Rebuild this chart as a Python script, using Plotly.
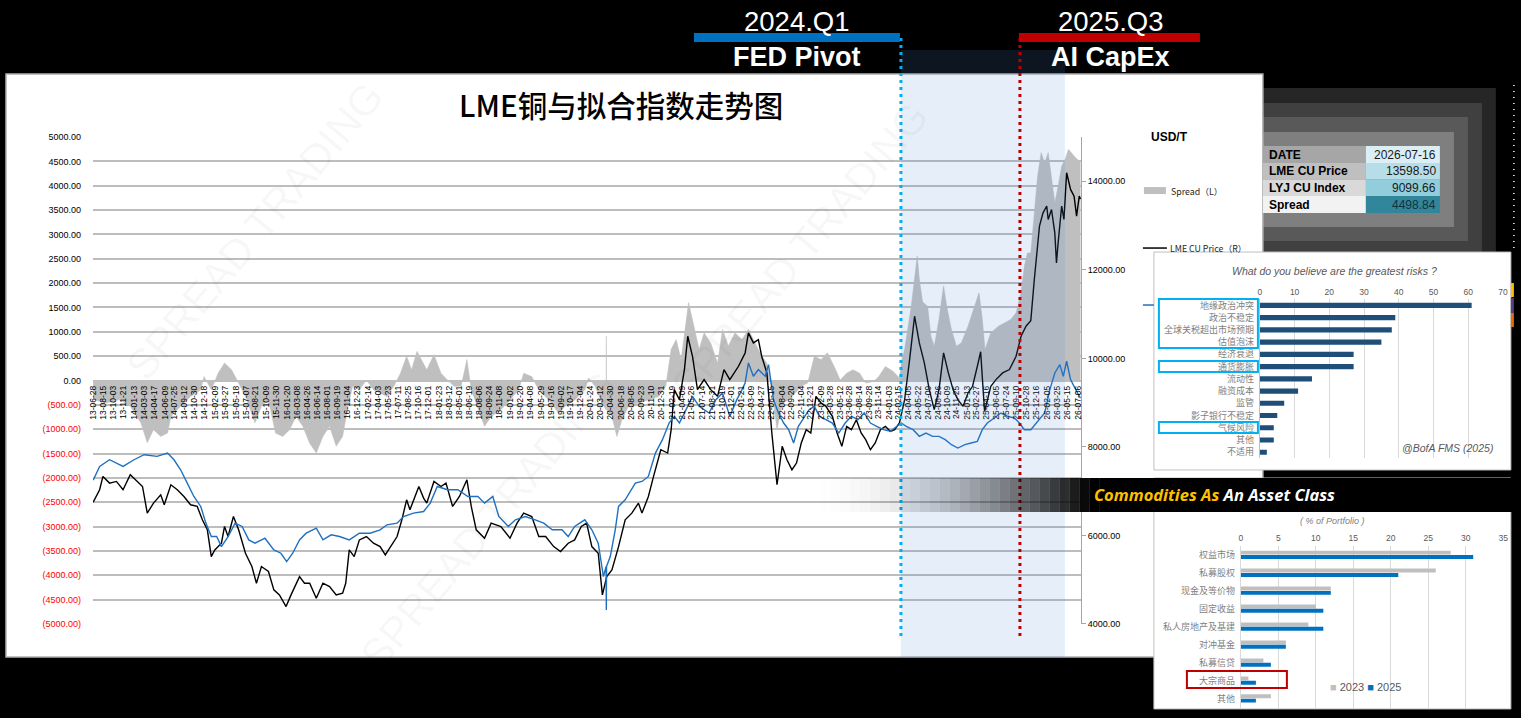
import plotly.graph_objects as go

W, H = 1521, 718

# ---------------- main chart data ----------------
lme_dates = [
    "2013-06-28", "2013-07-29", "2013-08-14", "2013-09-15", "2013-10-18", "2013-11-19",
    "2013-12-24", "2014-01-19", "2014-02-21", "2014-03-16", "2014-04-15", "2014-05-20",
    "2014-06-06", "2014-07-08", "2014-08-08", "2014-09-09", "2014-10-11", "2014-11-12",
    "2014-12-07", "2014-12-31", "2015-01-19", "2015-02-05", "2015-03-09", "2015-03-24",
    "2015-04-10", "2015-05-06", "2015-05-31", "2015-07-03", "2015-08-03", "2015-08-25",
    "2015-09-18", "2015-10-22", "2015-11-17", "2015-12-14", "2016-01-15", "2016-02-08",
    "2016-03-20", "2016-04-13", "2016-05-08", "2016-06-09", "2016-07-11", "2016-08-12",
    "2016-09-13", "2016-10-14", "2016-10-29", "2016-11-15", "2016-12-09", "2017-01-03",
    "2017-02-06", "2017-03-12", "2017-04-13", "2017-05-08", "2017-06-02", "2017-07-04",
    "2017-07-27", "2017-08-19", "2017-09-04", "2017-10-17", "2017-11-09", "2017-11-24",
    "2017-12-29", "2018-02-01", "2018-02-25", "2018-03-29", "2018-05-01", "2018-06-06",
    "2018-06-27", "2018-07-21", "2018-08-30", "2018-10-01", "2018-11-17", "2018-12-31",
    "2019-02-03", "2019-03-07", "2019-04-15", "2019-05-19", "2019-06-21", "2019-07-30",
    "2019-09-01", "2019-10-08", "2019-11-08", "2019-12-10", "2020-01-05", "2020-01-30",
    "2020-03-01", "2020-03-21", "2020-04-11", "2020-05-06", "2020-06-07", "2020-07-09",
    "2020-08-10", "2020-09-11", "2020-09-28", "2020-10-29", "2020-11-23", "2020-12-28",
    "2021-01-30", "2021-02-16", "2021-03-03", "2021-03-28", "2021-04-21", "2021-05-07",
    "2021-05-30", "2021-06-23", "2021-07-25", "2021-08-26", "2021-09-28", "2021-10-29",
    "2021-11-26", "2022-01-07", "2022-02-08", "2022-02-24", "2022-03-20", "2022-04-13",
    "2022-04-29", "2022-05-24", "2022-06-17", "2022-07-12", "2022-08-06", "2022-08-29",
    "2022-09-22", "2022-10-14", "2022-11-06", "2022-11-30", "2022-12-22", "2023-01-16",
    "2023-02-10", "2023-03-05", "2023-04-05", "2023-04-28", "2023-05-21", "2023-06-13",
    "2023-07-06", "2023-07-30", "2023-08-22", "2023-09-13", "2023-10-06", "2023-10-29",
    "2023-11-23", "2023-12-17", "2024-01-10", "2024-01-31", "2024-02-23", "2024-03-19",
    "2024-04-12", "2024-05-06", "2024-05-29", "2024-06-22", "2024-07-16", "2024-08-09",
    "2024-09-01", "2024-09-23", "2024-10-16", "2024-11-08", "2024-12-01", "2024-12-26",
    "2025-01-19", "2025-02-10", "2025-03-05", "2025-03-21", "2025-04-04", "2025-04-09",
    "2025-05-09", "2025-06-03", "2025-07-05", "2025-08-07", "2025-09-08", "2025-10-02",
    "2025-10-26", "2025-11-18", "2025-12-05", "2025-12-21", "2025-12-30", "2026-01-16",
    "2026-02-03", "2026-02-10", "2026-02-26", "2026-03-14", "2026-03-22", "2026-03-30",
    "2026-04-16", "2026-04-27", "2026-05-10", "2026-05-29", "2026-06-15", "2026-06-27",
    "2026-07-10", "2026-07-16",
]
lme_values = [
    6750, 7032, 7333, 7182, 7220, 7032,
    7370, 7257, 7106, 6504, 6730, 6918,
    6693, 7144, 7032, 6880, 6693, 6655,
    6353, 6127, 5523, 5673, 5824, 6202,
    5975, 6428, 6127, 5598, 5297, 4920,
    5297, 5184, 4770, 4657, 4393, 4657,
    5070, 4920, 4920, 4582, 4920, 4845,
    4657, 4695, 4920, 5673, 5523, 5899,
    5975, 5824, 5748, 5560, 5748, 5975,
    6353, 6805, 6579, 7106, 6843, 6730,
    7220, 7106, 7182, 6655, 6880, 7257,
    6655, 6127, 5937, 6278, 6202, 5937,
    6278, 6504, 6428, 5975, 5975, 5748,
    5635, 5824, 5899, 6202, 6278, 5748,
    5598, 4657, 5070, 5221, 5748, 6353,
    6504, 6730, 6504, 6880, 7333, 7936,
    7861, 8389, 9294, 9068, 9747, 10500,
    10048, 9294, 9520, 9294, 9143, 9747,
    9520, 9822, 10123, 10575, 10349, 10425,
    10048, 9671, 8314, 7145, 8013, 7710,
    7484, 7635, 8088, 8389, 8314, 9143,
    8992, 8917, 8690, 8314, 8013, 8465,
    8389, 8615, 8314, 8163, 7936, 8088,
    8389, 8465, 8352, 8389, 8540, 9068,
    9973, 10952, 10349, 9897, 9294, 8841,
    9294, 10123, 9671, 9294, 9068, 8917,
    9219, 9370, 9822, 10150, 9143, 8800,
    9370, 9520, 9671, 9747, 10048, 10500,
    10726, 10850, 11781, 12610, 12987, 13289,
    13440, 13138, 13364, 12836, 12158, 12610,
    13440, 13138, 14194, 13817, 13666, 13213,
    13666, 13598.50,
]

lyj_dates = [
    "2013-06-28", "2013-07-29", "2013-09-15", "2013-11-19", "2014-01-11", "2014-03-01",
    "2014-05-02", "2014-06-22", "2014-07-23", "2014-08-24", "2014-09-25", "2014-10-27",
    "2014-11-29", "2014-12-24", "2015-01-19", "2015-02-14", "2015-03-09", "2015-04-10",
    "2015-05-14", "2015-06-17", "2015-07-19", "2015-08-18", "2015-10-05", "2015-11-17",
    "2015-12-21", "2016-01-18", "2016-02-16", "2016-03-20", "2016-04-21", "2016-06-09",
    "2016-07-11", "2016-08-20", "2016-09-29", "2016-11-15", "2017-01-03", "2017-02-24",
    "2017-04-13", "2017-05-16", "2017-07-04", "2017-08-04", "2017-09-21", "2017-11-09",
    "2017-12-11", "2018-01-14", "2018-03-04", "2018-04-23", "2018-06-11", "2018-07-29",
    "2018-08-30", "2018-10-09", "2018-11-07", "2018-12-23", "2019-01-26", "2019-03-15",
    "2019-05-02", "2019-06-12", "2019-07-23", "2019-09-08", "2019-10-08", "2019-11-08",
    "2019-12-27", "2020-01-30", "2020-03-01", "2020-03-26", "2020-04-08", "2020-04-09",
    "2020-04-10", "2020-04-28", "2020-05-22", "2020-06-07", "2020-07-09", "2020-08-27",
    "2020-09-28", "2020-10-29", "2020-12-02", "2021-01-05", "2021-02-06", "2021-03-03",
    "2021-03-28", "2021-04-29", "2021-05-30", "2021-07-01", "2021-08-18", "2021-09-20",
    "2021-10-22", "2021-11-26", "2021-12-30", "2022-01-24", "2022-02-08", "2022-02-24",
    "2022-03-20", "2022-04-13", "2022-05-16", "2022-06-01", "2022-06-25", "2022-07-19",
    "2022-08-13", "2022-09-06", "2022-09-30", "2022-10-23", "2022-11-21", "2022-12-14",
    "2023-01-08", "2023-02-02", "2023-03-05", "2023-04-05", "2023-05-06", "2023-06-06",
    "2023-07-06", "2023-08-07", "2023-09-06", "2023-10-06", "2023-11-05", "2023-12-09",
    "2024-01-10", "2024-02-08", "2024-03-03", "2024-03-27", "2024-04-29", "2024-05-29",
    "2024-06-30", "2024-08-01", "2024-09-01", "2024-10-01", "2024-10-31", "2024-12-01",
    "2025-01-04", "2025-02-03", "2025-03-05", "2025-03-29", "2025-04-22", "2025-05-26",
    "2025-06-27", "2025-07-30", "2025-08-31", "2025-09-24", "2025-10-18", "2025-11-18",
    "2025-12-21", "2026-01-24", "2026-02-18", "2026-03-14", "2026-04-07", "2026-04-24",
    "2026-05-10", "2026-05-29", "2026-06-23", "2026-07-16",
]
lyj_values = [
    7250, 7559, 7710, 7559, 7710, 7823,
    7786, 7861, 7710, 7484, 7182, 6880,
    6655, 6278, 5975, 5975, 5748, 5975,
    6278, 6202, 5899, 5824, 5937, 5673,
    5598, 5410, 5598, 5899, 6051, 6164,
    5899, 6013, 5975, 5899, 6051, 6051,
    6127, 6240, 6278, 6428, 6504, 6541,
    6730, 7106, 7032, 7032, 6880, 6880,
    6730, 6880, 6428, 6202, 6353, 6428,
    6353, 6278, 6127, 6127, 5975, 6202,
    6353, 6127, 5824, 5070, 5300, 4317,
    5300, 5523, 6127, 6655, 6805, 7182,
    7220, 7333, 7861, 8163, 8540, 8690,
    8540, 8841, 9143, 8917, 8766, 9068,
    9219, 8690, 9068, 9294, 9445, 9897,
    9596, 9747, 9596, 9860, 9068, 8766,
    8540, 8389, 8088, 8465, 8690, 8841,
    8917, 8690, 8615, 8540, 8314, 8540,
    8690, 8615, 8766, 8540, 8465, 8389,
    8352, 8465, 8540, 8465, 8389, 8239,
    8314, 8239, 8239, 8163, 8050, 7974,
    8050, 8088, 8126, 8389, 8540, 8653,
    8766, 8690, 8653, 8540, 8389, 8389,
    8577, 8766, 9294, 9671, 9860, 9596,
    9935, 9520, 9294, 9099.66,
]

spread_dates = [
    "2013-06-28", "2013-08-30", "2013-11-03", "2013-12-24", "2014-02-13", "2014-03-16",
    "2014-04-15", "2014-05-20", "2014-06-22", "2014-07-08", "2014-08-24", "2014-10-11",
    "2014-11-29", "2014-12-15", "2015-01-19", "2015-02-21", "2015-03-24", "2015-04-27",
    "2015-05-31", "2015-07-03", "2015-08-18", "2015-09-18", "2015-10-22", "2015-11-25",
    "2015-12-30", "2016-02-01", "2016-03-03", "2016-04-05", "2016-05-08", "2016-06-09",
    "2016-07-11", "2016-08-12", "2016-09-13", "2016-10-14", "2016-11-06", "2016-12-01",
    "2017-01-03", "2017-02-06", "2017-03-12", "2017-04-13", "2017-05-16", "2017-06-18",
    "2017-07-20", "2017-08-19", "2017-09-12", "2017-10-08", "2017-11-09", "2017-11-24",
    "2017-12-29", "2018-02-01", "2018-03-04", "2018-04-06", "2018-05-09", "2018-06-06",
    "2018-06-27", "2018-07-21", "2018-08-30", "2018-10-01", "2018-11-17", "2018-12-31",
    "2019-02-11", "2019-03-07", "2019-04-15", "2019-05-19", "2019-07-06", "2019-08-23",
    "2019-09-23", "2019-11-08", "2019-12-27", "2020-01-14", "2020-02-15", "2020-03-18",
    "2020-04-08", "2020-04-09", "2020-04-10", "2020-05-06", "2020-05-30", "2020-06-23",
    "2020-07-25", "2020-09-11", "2020-10-29", "2020-12-18", "2021-01-21", "2021-02-16",
    "2021-03-12", "2021-04-05", "2021-05-11", "2021-06-07", "2021-07-01", "2021-07-25",
    "2021-08-26", "2021-09-28", "2021-10-22", "2021-11-19", "2021-12-21", "2022-01-24",
    "2022-02-24", "2022-03-28", "2022-04-29", "2022-05-24", "2022-06-17", "2022-07-12",
    "2022-08-06", "2022-09-06", "2022-10-08", "2022-11-06", "2022-12-07", "2023-01-08",
    "2023-02-10", "2023-03-12", "2023-04-14", "2023-05-13", "2023-06-13", "2023-07-14",
    "2023-08-15", "2023-09-13", "2023-10-22", "2023-11-15", "2023-12-17", "2024-01-23",
    "2024-02-23", "2024-03-05", "2024-03-19", "2024-04-20", "2024-05-19", "2024-05-29",
    "2024-06-14", "2024-07-08", "2024-07-24", "2024-08-09", "2024-09-01", "2024-09-23",
    "2024-10-08", "2024-10-31", "2024-11-24", "2024-12-18", "2025-01-19", "2025-02-18",
    "2025-03-13", "2025-03-29", "2025-04-11", "2025-05-09", "2025-06-15", "2025-07-16",
    "2025-08-15", "2025-09-08", "2025-10-02", "2025-10-18", "2025-11-02", "2025-11-18",
    "2025-12-05", "2025-12-21", "2026-01-07", "2026-01-24", "2026-02-10", "2026-02-26",
    "2026-03-14", "2026-03-30", "2026-04-16", "2026-05-02", "2026-05-19", "2026-06-15",
    "2026-07-01", "2026-07-16",
]
spread_values = [
    -390, -460, -390, -530, -870, -1280,
    -1010, -1150, -1080, -740, -530, -330,
    -190, 80, -190, 150, 360, 220,
    -50, -330, -870, -530, -400, -1080,
    -1150, -1010, -740, -940, -1290, -1490,
    -1150, -940, -1350, -1150, -600, -120,
    -190, 10, -190, -260, -330, -120,
    150, 500, 220, 600, 360, 220,
    530, 150, 10, -120, -120, 430,
    -190, -460, -940, -740, -600, -400,
    -190, 150, 80, -190, -400, -670,
    -530, -400, -190, 50, -120, -460,
    -600, 910, -600, -740, -1150, -810,
    -530, -460, -400, -330, -120, 640,
    840, 430, 1600, 1120, 640, 980,
    770, 360, 1050, 710, 980, 840,
    1050, 770, 500, 360, -190, -1010,
    -460, -400, -260, -120, -50, 500,
    430, 570, 290, 10, 150, 220,
    150, -50, -20, 80, 290, 190,
    50, 400, 640, 1527, 2555, 2082,
    1610, 1527, 910, 706, 1260, 1945,
    1527, 1048, 706, 775, 1117, 1527,
    1800, 1260, 637, 980, 1117, 1185,
    1260, 1390, 1800, 2350, 2620, 2620,
    3440, 4200, 4680, 4470, 4680, 4130,
    3650, 3990, 4400, 4540, 4750, 4610,
    4540, 4498.84,
]

date_labels = [
    "13-06-28", "13-08-15", "13-10-03", "13-11-21", "14-01-13", "14-03-03", "14-04-17",
    "14-06-09", "14-07-25", "14-09-12", "14-10-30", "14-12-18", "15-02-09", "15-03-27",
    "15-05-18", "15-07-07", "15-08-21", "15-10-09", "15-11-30", "16-01-20", "16-03-08",
    "16-04-26", "16-06-14", "16-08-01", "16-09-19", "16-11-04", "16-12-23", "17-02-14",
    "17-04-03", "17-05-23", "17-07-11", "17-08-25", "17-10-16", "17-12-01", "18-01-23",
    "18-03-12", "18-05-01", "18-06-19", "18-08-06", "18-09-24", "18-11-08", "19-01-02",
    "19-02-20", "19-04-08", "19-05-29", "19-07-16", "19-09-02", "19-10-17", "19-12-04",
    "20-01-24", "20-03-12", "20-04-30", "20-06-18", "20-08-05", "20-09-23", "20-11-10",
    "20-12-31", "21-02-19", "21-04-09", "21-05-26", "21-07-14", "21-08-31", "21-10-19",
    "21-12-01", "22-01-21", "22-03-09", "22-04-27", "22-06-15", "22-08-04", "22-09-20",
    "22-11-04", "22-12-21", "23-02-09", "23-03-28", "23-05-12", "23-06-28", "23-08-14",
    "23-09-28", "23-11-14", "24-01-03", "24-02-15", "24-04-05", "24-05-22", "24-07-09",
    "24-08-26", "24-10-09", "24-11-25", "25-01-13", "25-02-27", "25-04-16", "25-06-05",
    "25-07-24", "25-09-10", "25-10-28", "25-12-16", "26-02-05", "26-03-25", "26-05-15",
    "26-07-06",
]

left_ticks = [5000, 4500, 4000, 3500, 3000, 2500, 2000, 1500, 1000, 500, 0,
              -500, -1000, -1500, -2000, -2500, -3000, -3500, -4000, -4500, -5000]
right_ticks = [4000, 6000, 8000, 10000, 12000, 14000]

table_fields = ["DATE", "LME CU Price", "LYJ CU Index", "Spread"]
table_values = ["2026-07-16", "13598.50", "9099.66", "4498.84"]

# ---------------- inset charts ----------------
risk_labels = ["地缘政治冲突", "政治不稳定", "全球关税超出市场预期", "估值泡沫", "经济衰退",
               "通货膨胀", "流动性", "融资成本", "监管", "影子银行不稳定", "气候风险",
               "其他", "不适用"]
risk_values = [61, 39, 38, 35, 27, 27, 15, 11, 7, 5, 4, 4, 2]

port_labels = ["权益市场", "私募股权", "现金及等价物", "固定收益", "私人房地产及基建",
               "对冲基金", "私募信贷", "大宗商品", "其他"]
port_2023 = [28, 26, 12, 10, 9, 6, 3, 1, 4]
port_2025 = [31, 21, 12, 11, 11, 6, 4, 2, 2]

# the captured page comes out slightly shrunk towards the centre; compensate
OX, SX = 5.0, 0.9935
OY, SY = 4.9, 0.9863


def px(x):
    return (x - OX) / SX / W


def py(y):
    return 1 - (y - OY) / SY / H


def rect(x0, y0, x1, y1, fill, line=None, lw=1, layer="below", opacity=1):
    return dict(type="rect", xref="paper", yref="paper",
                x0=px(x0), x1=px(x1), y0=py(y1), y1=py(y0),
                fillcolor=fill, opacity=opacity, layer=layer,
                line=dict(color=line if line else "rgba(0,0,0,0)", width=lw if line else 0))


def seg(x0, y0, x1, y1, color, lw=1, dash="solid", layer="above"):
    return dict(type="line", xref="paper", yref="paper",
                x0=px(x0), x1=px(x1), y0=py(y0), y1=py(y1), layer=layer,
                line=dict(color=color, width=lw, dash=dash))


def note(x, y, text, size=10, color="black", family="Liberation Sans, Arial, sans-serif",
         xanchor="center", angle=0, weight=None):
    font = dict(size=size, color=color, family=family)
    if weight:
        font["weight"] = weight
    return dict(x=px(x), y=py(y), xref="paper", yref="paper", text=text, showarrow=False,
                xanchor=xanchor, yanchor="middle", textangle=angle, font=font)


CJK = "Noto Sans CJK SC, sans-serif"
SANS = "Liberation Sans, Arial, sans-serif"

fig = go.Figure()

fig.add_trace(go.Scatter(x=spread_dates, y=spread_values, mode="lines", fill="tozeroy",
                         line=dict(color="#bfbfbf", width=0.5), fillcolor="#bfbfbf",
                         xaxis="x", yaxis="y", name="Spread（L）"))
fig.add_trace(go.Scatter(x=lme_dates, y=lme_values, mode="lines",
                         line=dict(color="black", width=1.4),
                         xaxis="x", yaxis="y2", name="LME CU Price（R）"))
fig.add_trace(go.Scatter(x=lyj_dates, y=lyj_values, mode="lines",
                         line=dict(color="#1f70c1", width=1.4),
                         xaxis="x", yaxis="y2", name="LYJ CU Index（R）"))

fig.add_trace(go.Bar(x=risk_values, y=risk_labels, orientation="h", width=0.42,
                     marker=dict(color="#1f4e79", line=dict(width=0)),
                     xaxis="x3", yaxis="y3"))
fig.add_trace(go.Bar(x=port_2023, y=port_labels, orientation="h", width=0.22, offset=-0.24,
                     marker=dict(color="#bfbfbf", line=dict(width=0)),
                     xaxis="x4", yaxis="y4", name="2023"))
fig.add_trace(go.Bar(x=port_2025, y=port_labels, orientation="h", width=0.22, offset=0.0,
                     marker=dict(color="#0070c0", line=dict(width=0)),
                     xaxis="x4", yaxis="y4", name="2025"))

left_text = [f"{v:.2f}" if v >= 0 else f"<span style='color:#ff0000'>({-v:.2f})</span>"
             for v in left_ticks]

shapes = [
    # nested frames behind the data table
    rect(1263, 88, 1496, 252, "#262626"),
    rect(1263, 103, 1482, 252, "#404040"),
    rect(1263, 117, 1468, 241, "#595959"),
    rect(1263, 132, 1454, 227, "#7f7f7f"),
    # main chart panel
    rect(6, 74, 1263, 657, "white", line="#b0b0b0", lw=1.5),
    # inset panels
    rect(1154, 252, 1511, 470, "white", line="#bfbfbf"),
    rect(1154, 478, 1511, 709, "white", line="#bfbfbf"),
]

row_y = [146, 163, 179.5, 196, 213]
left_fill = ["#a6a6a6", "#bfbfbf", "#d9d9d9", "#f2f2f2"]
right_fill = ["#daeef3", "#b7dee8", "#92cddc", "#31869b"]
for i in range(4):
    shapes.append(rect(1263, row_y[i], 1366, row_y[i + 1], left_fill[i]))
    shapes.append(rect(1366, row_y[i], 1440, row_y[i + 1], right_fill[i]))

# shaded period 2024.Q1 -> present
shapes.append(rect(901, 50, 1065, 657, "rgba(87,141,215,0.15)", layer="above"))
shapes.append(seg(901, 38, 901, 640, "#00b0f0", lw=3, dash="3px,4px"))
shapes.append(seg(1020, 38, 1020, 640, "#c00000", lw=3, dash="3px,4px"))
shapes.append(rect(694, 33, 900, 42, "#0070c0", layer="above"))
shapes.append(rect(1019, 33, 1200, 42, "#c00000", layer="above"))

# banner with horizontal fade
x = 800
while x < 1100:
    t = max(0.0, (x + 5 - 800) / 290)
    a = min(1.0, t ** 2.2)
    shapes.append(rect(x, 478, x + 10, 512, "black", layer="above", opacity=a))
    x += 10
shapes.append(rect(1100, 478, 1530, 512, "black", layer="above"))

# legend swatches
shapes.append(rect(1144, 187, 1166, 194, "#bfbfbf", layer="above"))
shapes.append(seg(1143, 248, 1167, 248, "black", lw=1.5))
shapes.append(seg(1143, 305, 1154, 305, "#1f70c1", lw=1.5))

# highlight boxes
shapes.append(rect(1159, 299, 1258, 348, "rgba(0,0,0,0)", line="#00b0f0", lw=2, layer="above"))
shapes.append(rect(1159, 361, 1258, 372, "rgba(0,0,0,0)", line="#00b0f0", lw=2, layer="above"))
shapes.append(rect(1159, 422, 1258, 433, "rgba(0,0,0,0)", line="#00b0f0", lw=2, layer="above"))
shapes.append(rect(1187, 671, 1287, 688, "rgba(0,0,0,0)", line="#c00000", lw=2, layer="above"))

# edge details on the far right
shapes.append(seg(1514, 85, 1514, 250, "white", lw=1.5, dash="1px,5px"))
shapes.append(rect(1511, 283, 1514, 297, "#ffc000", layer="above"))
shapes.append(rect(1511, 298, 1514, 313, "#5b3b8c", layer="above"))
shapes.append(rect(1511, 313, 1514, 327, "#e46c0a", layer="above"))

annotations = [
    note(621, 104, "LME铜与拟合指数走势图", size=29.5, color="black", family=CJK, weight=500),
    note(797, 21, "2024.Q1", size=27.5, color="white", family=SANS),
    note(797, 57, "<b>FED Pivot</b>", size=27, color="white", family=SANS),
    note(1111, 21, "2025.Q3", size=27.5, color="white", family=SANS),
    note(1111, 57, "<b>AI CapEx</b>", size=27, color="white", family=SANS),
    note(1149, 137, "<b>USD/T</b>", size=12, xanchor="left"),
    note(1169, 191, "Spread（L）", size=8.8, color="#262626", xanchor="left", family=CJK),
    note(1168, 248, "LME CU Price（R）", size=8.8, color="#262626", xanchor="left", family=CJK),
    note(1335, 271, "<i>What do you believe are the greatest risks ?</i>", size=10.5, color="#595959"),
    note(1448, 448, "<i>@BofA FMS (2025)</i>", size=10.5, color="#595959"),
    note(1333, 521, "<i>( % of Portfolio )</i>", size=9, color="#7f7f7f"),
    note(1366, 687, "<span style='color:#bfbfbf'>■</span> 2023 <span style='color:#0070c0'>■</span> 2025",
         size=11, color="#595959"),
    note(1215, 495, "<b><i><span style='color:#ffc000'>Commodities As</span> An Asset Class</i></b>",
         size=16.5, color="white", family="Noto Sans, Open Sans, sans-serif"),
]
for i in range(4):
    cy = (row_y[i] + row_y[i + 1]) / 2
    annotations.append(note(1267, cy, f"<b>{table_fields[i]}</b>", size=12, xanchor="left"))
    annotations.append(dict(x=px(1438), y=py(cy), xref="paper", yref="paper", text=table_values[i],
                            showarrow=False, xanchor="right", yanchor="middle",
                            font=dict(size=12, color="#1a1a1a" if i < 3 else "#14323c",
                                      family=SANS)))

# faint watermarks
for wx, wy in [(255, 230), (490, 520), (800, 250)]:
    annotations.append(note(wx, wy, "SPREAD TRADING", size=42, color="rgba(0,0,0,0.045)", angle=-50))

fig.update_layout(
    width=W, height=H,
    margin=dict(l=0, r=0, t=0, b=0),
    paper_bgcolor="black",
    plot_bgcolor="rgba(0,0,0,0)",
    showlegend=False,
    barmode="overlay",
    font=dict(family=SANS, color="black"),
    shapes=shapes,
    annotations=annotations,
    xaxis=dict(type="date", domain=[px(93), px(1081)], range=["2013-06-27", "2026-07-18"],
               anchor="free", position=py(381),
               tickvals=["20" + d for d in date_labels], ticktext=date_labels,
               tickangle=-90, tickfont=dict(size=8.5, color="black"),
               showgrid=False, zeroline=False, showline=False, ticks="", ticklabelstandoff=2),
    yaxis=dict(domain=[py(624), py(137)], range=[-5000, 5000], anchor="x",
               tickvals=left_ticks, ticktext=left_text, tickfont=dict(size=9, color="black"),
               showgrid=True, gridcolor="#bdbdbd", gridwidth=1.5, zeroline=False,
               showline=False, ticks="", ticklabelstandoff=11),
    yaxis2=dict(overlaying="y", side="right", anchor="x", range=[4000, 15000],
                tickvals=right_ticks, ticktext=[f"{v:.2f}" for v in right_ticks],
                tickfont=dict(size=9, color="black"), showgrid=False, zeroline=False,
                showline=True, linecolor="#a6a6a6", linewidth=1,
                ticks="outside", ticklen=4, tickcolor="#a6a6a6"),
    xaxis3=dict(domain=[px(1260), px(1503)], range=[0, 70], anchor="y3", side="top",
                dtick=10, tickfont=dict(size=8.5, color="#595959"),
                showgrid=True, gridcolor="#d9d9d9", zeroline=False, showline=False, ticks="",
                ticklabelstandoff=2),
    yaxis3=dict(domain=[py(458.4), py(299.2)], anchor="x3", type="category",
                autorange="reversed", tickfont=dict(size=9, color="#7f7f7f", family=CJK),
                showgrid=False, showline=True, linecolor="#bfbfbf", ticks="",
                ticklabelstandoff=3),
    xaxis4=dict(domain=[px(1241), px(1503.3)], range=[0, 35], anchor="y4", side="top",
                dtick=5, tickfont=dict(size=8.5, color="#595959"),
                showgrid=True, gridcolor="#d9d9d9", zeroline=False, showline=False, ticks="",
                ticklabelstandoff=2),
    yaxis4=dict(domain=[py(707.7), py(546)], anchor="x4", type="category",
                autorange="reversed", tickfont=dict(size=9, color="#7f7f7f", family=CJK),
                showgrid=False, showline=True, linecolor="#d9d9d9", ticks="",
                ticklabelstandoff=3),
)

fig.write_html("out.html", config={"displayModeBar": False},
               post_script="document.body.style.margin='0';document.body.style.overflow='hidden';")
